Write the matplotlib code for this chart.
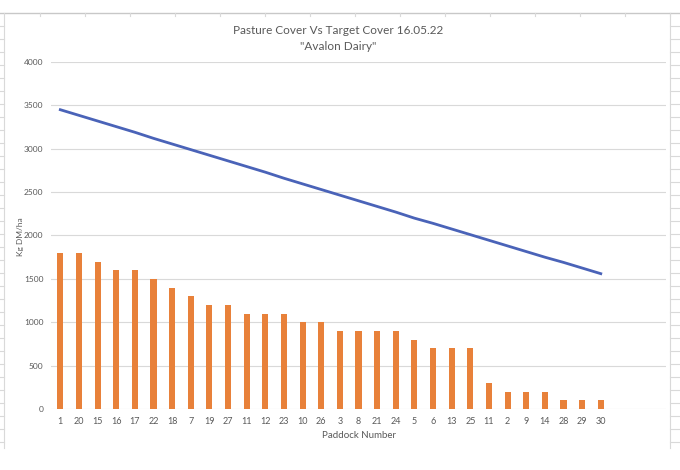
import matplotlib
matplotlib.use("Agg")
import matplotlib.pyplot as plt
from matplotlib.lines import Line2D

paddocks = ["1", "20", "15", "16", "17", "22", "18", "7", "19", "27", "11", "12", "23", "10", "26",
            "3", "8", "21", "24", "5", "6", "13", "25", "11", "2", "9", "14", "28", "29", "30"]
pasture_cover = [1800, 1800, 1700, 1600, 1600, 1500, 1400, 1300, 1200, 1200, 1100, 1100, 1100, 1000, 1000,
                 900, 900, 900, 900, 800, 700, 700, 700, 300, 200, 200, 200, 100, 100, 100]
target_cover = [3450, 3385, 3320, 3255, 3190, 3120, 3055, 2990, 2925, 2860, 2795, 2730, 2660, 2595, 2530,
                2465, 2400, 2335, 2270, 2200, 2140, 2075, 2010, 1945, 1880, 1815, 1750, 1690, 1625, 1560]
yticks = [0, 500, 1000, 1500, 2000, 2500, 3000, 3500, 4000]

plt.rcParams['font.family'] = ['Lato', 'DejaVu Sans']
TXT = "#595959"
fig = plt.figure(figsize=(6.8, 4.7), dpi=100)
fig.patch.set_facecolor("white")

# spreadsheet cell lines around the chart box
cell = "#d9d9d9"
fig.add_artist(Line2D([0, 1], [1 - 13/470, 1 - 13/470], color="#c8c8c8", lw=1))
for x in range(40, 680, 45):
    fig.add_artist(Line2D([x/680, x/680], [1 - 13/470, 1 - 16/470], color=cell, lw=0.8))
for y in range(26, 450, 13):
    fig.add_artist(Line2D([0, 4/680], [1 - y/470, 1 - y/470], color=cell, lw=0.8))
    fig.add_artist(Line2D([670/680, 1], [1 - y/470, 1 - y/470], color=cell, lw=0.8))
fig.add_artist(Line2D([4/680, 4/680], [1 - 13/470, 1 - 448/470], color=cell, lw=0.8))
fig.add_artist(Line2D([670/680, 670/680], [1 - 13/470, 1 - 448/470], color=cell, lw=0.8))

ax = fig.add_axes([51/680, 61/470, 615/680, 347/470])
x = list(range(len(paddocks)))
ax.bar(x, pasture_cover, width=0.33, color="#E8813A", zorder=3)
ax.plot(x, target_cover, color="#4A63B8", lw=2, zorder=4)

ax.set_xlim(-0.5, 32.5)
ax.set_ylim(0, 4000)
ax.set_yticks(yticks)
ax.set_yticklabels([str(v) for v in yticks], fontsize=6, color=TXT)
ax.set_xticks(x)
ax.set_xticklabels(paddocks, fontsize=6.5, color=TXT)
ax.tick_params(length=0, pad=6)
ax.tick_params(axis="y", pad=5.5)
ax.grid(axis="y", color="#d9d9d9", lw=0.8, zorder=0)
for s in ax.spines.values():
    s.set_visible(False)

ax.set_xlabel("Paddock Number", fontsize=7, color=TXT, labelpad=3)
fig.text(20/680, 1 - 237/470, "Kg DM/ha", rotation=90, ha="center", va="center",
         fontsize=6, color=TXT)
fig.text(338/680, 1 - 30/470, "Pasture Cover Vs Target Cover 16.05.22", ha="center", va="center",
         fontsize=8.5, color=TXT)
fig.text(338/680, 1 - 47/470, "\"Avalon Dairy\"", ha="center", va="center", fontsize=8.5, color=TXT)

fig.savefig("out.png", dpi=100)
